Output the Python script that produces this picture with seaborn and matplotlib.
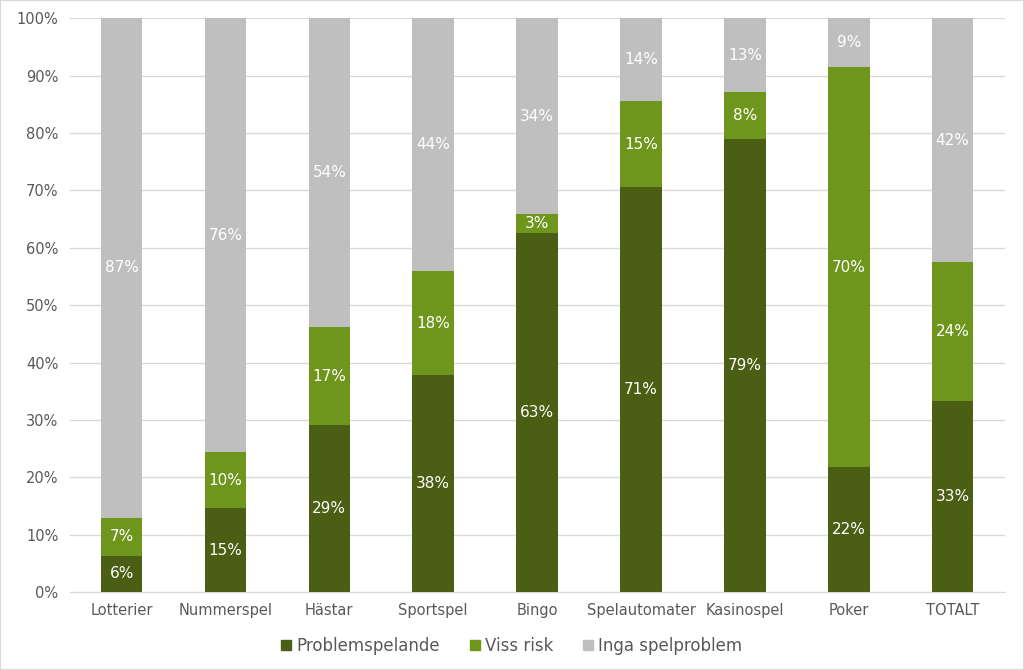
import matplotlib
matplotlib.use("Agg")
import matplotlib.pyplot as plt
import matplotlib.patches as mpatches
import seaborn as sns
import pandas as pd

categories = ["Lotterier", "Nummerspel", "Hästar", "Sportspel", "Bingo",
              "Spelautomater", "Kasinospel", "Poker", "TOTALT"]
problem = [6.4, 14.6, 29.1, 37.8, 62.6, 70.6, 78.9, 21.8, 33.3]
viss_risk = [6.6, 9.8, 17.1, 18.1, 3.2, 14.9, 8.2, 69.6, 24.2]
inga = [87.0, 75.6, 53.8, 44.1, 34.2, 14.5, 12.9, 8.6, 42.5]

series_names = ["Problemspelande", "Viss risk", "Inga spelproblem"]
colors = ["#4A5E14", "#6E961C", "#BFBFBF"]

df = pd.DataFrame({"cat": categories, "p": problem, "v": viss_risk, "i": inga})
df["pv"] = df["p"] + df["v"]
df["tot"] = df["pv"] + df["i"]

sns.set_style("white")
plt.rcParams["font.family"] = ["DejaVu Sans"]

fig = plt.figure(figsize=(10.24, 6.7), dpi=100)
ax = fig.add_axes([0.068, 0.116, 0.913, 0.857])

# stacked: draw cumulative totals from the back to the front
for col, c, z in [("tot", colors[2], 2), ("pv", colors[1], 3), ("p", colors[0], 4)]:
    sns.barplot(data=df, x="cat", y=col, color=c, width=0.4, saturation=1,
                linewidth=0, ax=ax, zorder=z)

for i, row in df.iterrows():
    ax.text(i, row["p"] / 2, f"{row['p']:.0f}%", ha="center", va="center",
            color="white", fontsize=11, zorder=5)
    ax.text(i, row["p"] + row["v"] / 2, f"{row['v']:.0f}%", ha="center", va="center",
            color="white", fontsize=11, zorder=5)
    ax.text(i, row["pv"] + row["i"] / 2, f"{row['i']:.0f}%", ha="center", va="center",
            color="white", fontsize=11, zorder=5)

ax.set_ylim(0, 100)
ax.set_xlim(-0.5, len(categories) - 0.5)
ax.set_yticks(range(0, 101, 10))
ax.set_yticklabels([f"{t}%" for t in range(0, 101, 10)])
ax.yaxis.grid(True, color="#D9D9D9", linewidth=1, zorder=0)
ax.set_axisbelow(True)
ax.set_xlabel("")
ax.set_ylabel("")
for s in ["top", "right", "left"]:
    ax.spines[s].set_visible(False)
ax.spines["bottom"].set_color("#D9D9D9")
ax.tick_params(axis="both", length=0, labelsize=10.5, labelcolor="#595959", pad=8)

handles = [mpatches.Patch(color=c, label=n) for c, n in zip(colors, series_names)]
fig.legend(handles=handles, loc="lower center", bbox_to_anchor=(0.5, 0.0), ncol=3,
           frameon=False, fontsize=12, handlelength=0.6, handleheight=0.6,
           handletextpad=0.3, columnspacing=1.8, labelcolor="#595959")

fig.patches.append(mpatches.Rectangle((0, 0), 1, 1, transform=fig.transFigure,
                                      fill=False, edgecolor="#D9D9D9", linewidth=1.5))

fig.savefig("out.png", dpi=100)
